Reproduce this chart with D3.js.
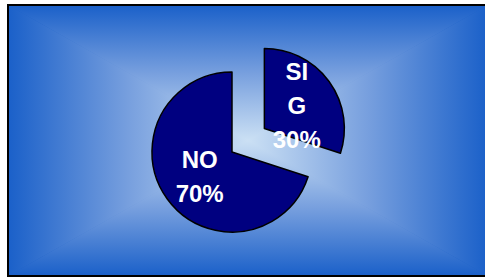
<!DOCTYPE html>
<html>
<head>
<meta charset="utf-8">
<script src="https://cdn.jsdelivr.net/npm/d3@7"></script>
<style>
  body { margin: 0; background: #fff; }
  svg { display: block; }
</style>
</head>
<body>
<script>
// chart data
var categories = ["SI G", "NO"];
var values = [30, 70];
var sliceColors = ["#000080", "#000080"];
var explode = [40, 0]; // pixels pulled out of the pie

var w = 485, h = 277;
// framed panel
var panel = { x: 8, y: 5, w: 480, h: 271 };
var cx = 232, cy = 152, radius = 80;

var svg = d3.select("body").append("svg")
  .attr("width", w)
  .attr("height", h);

var defs = svg.append("defs");
var edgeCol = "#1a60c9", midCol = "#779fde", centerCol = "#cbe0f4";

// rectangular gradient: four triangles each with a linear gradient toward the centre
var px0 = panel.x, py0 = panel.y, px1 = panel.x + panel.w, py1 = panel.y + panel.h;
var mx = (px0 + px1) / 2, my = (py0 + py1) / 2;
var tris = [
  { id: "gTop", pts: [[px0, py0], [px1, py0], [mx, my]], from: [mx, py0], to: [mx, my] },
  { id: "gBot", pts: [[px0, py1], [px1, py1], [mx, my]], from: [mx, py1], to: [mx, my] },
  { id: "gLeft", pts: [[px0, py0], [px0, py1], [mx, my]], from: [px0, my], to: [mx, my] },
  { id: "gRight", pts: [[px1, py0], [px1, py1], [mx, my]], from: [px1, my], to: [mx, my] }
];

tris.forEach(function(t) {
  var g = defs.append("linearGradient")
    .attr("id", t.id)
    .attr("gradientUnits", "userSpaceOnUse")
    .attr("x1", t.from[0]).attr("y1", t.from[1])
    .attr("x2", t.to[0]).attr("y2", t.to[1]);
  g.append("stop").attr("offset", "0%").attr("stop-color", edgeCol);
  g.append("stop").attr("offset", "50%").attr("stop-color", midCol);
  g.append("stop").attr("offset", "100%").attr("stop-color", centerCol);
});

// under-layer hides the seams between triangles
var bgDiag = defs.append("radialGradient")
  .attr("id", "gBase")
  .attr("gradientUnits", "userSpaceOnUse")
  .attr("cx", mx).attr("cy", my).attr("r", panel.w / 2);
bgDiag.append("stop").attr("offset", "0%").attr("stop-color", centerCol);
bgDiag.append("stop").attr("offset", "50%").attr("stop-color", midCol);
bgDiag.append("stop").attr("offset", "100%").attr("stop-color", edgeCol);

svg.append("rect")
  .attr("x", panel.x)
  .attr("y", panel.y)
  .attr("width", panel.w)
  .attr("height", panel.h)
  .attr("fill", "url(#gBase)");

svg.selectAll("polygon.bg")
  .data(tris)
  .enter()
  .append("polygon")
  .attr("class", "bg")
  .attr("points", function(d) { return d.pts.map(function(p) { return p.join(","); }).join(" "); })
  .attr("fill", function(d) { return "url(#" + d.id + ")"; });

svg.append("rect")
  .attr("x", panel.x)
  .attr("y", panel.y)
  .attr("width", panel.w)
  .attr("height", panel.h)
  .attr("fill", "none")
  .attr("stroke", "#000")
  .attr("stroke-width", 2);

// pie
var pie = d3.pie().sort(null).value(function(d) { return d; });
var arcs = pie(values);
var arc = d3.arc().innerRadius(0).outerRadius(radius);
var labelArc = d3.arc().innerRadius(radius / 2).outerRadius(radius / 2);

var g = svg.append("g").attr("transform", "translate(" + cx + "," + cy + ")");

var slices = g.selectAll("g.slice")
  .data(arcs)
  .enter()
  .append("g")
  .attr("class", "slice")
  .attr("transform", function(d, i) {
    var a = (d.startAngle + d.endAngle) / 2;
    return "translate(" + (Math.sin(a) * explode[i]) + "," + (-Math.cos(a) * explode[i]) + ")";
  });

slices.append("path")
  .attr("d", arc)
  .attr("fill", function(d, i) { return sliceColors[i]; })
  .attr("stroke", "#000")
  .attr("stroke-width", 1.5)
  .attr("stroke-linejoin", "round");

var lineH = 34;
slices.append("text")
  .attr("text-anchor", "middle")
  .attr("fill", "#fff")
  .attr("font-family", "Liberation Sans, Arial, sans-serif")
  .attr("font-weight", "bold")
  .attr("font-size", 24)
  .each(function(d, i) {
    var lines = categories[i].split(" ").concat([values[i] + "%"]);
    var c = labelArc.centroid(d);
    var t = d3.select(this);
    var y0 = c[1] - (lines.length - 1) * lineH / 2 + 9;
    lines.forEach(function(s, k) {
      t.append("tspan")
        .attr("x", c[0])
        .attr("y", y0 + k * lineH)
        .text(s);
    });
  });
</script>
</body>
</html>
